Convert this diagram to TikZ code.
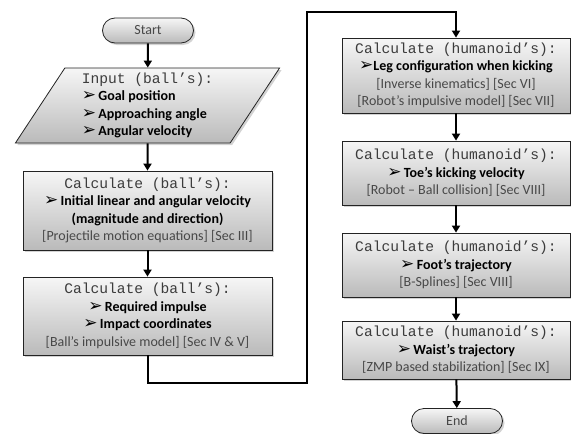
\documentclass[tikz,border=0pt]{standalone}
\usepackage{fontspec}
\setmainfont{Carlito}
\setmonofont{Liberation Mono}
\newfontfamily\symfont{DejaVu Sans}
\usetikzlibrary{arrows.meta,shapes.geometric,shadows}
\definecolor{topc}{RGB}{246,246,246}
\definecolor{botc}{RGB}{186,186,186}
\definecolor{monoc}{RGB}{60,60,60}
\definecolor{refc}{RGB}{72,72,72}
\definecolor{edgec}{RGB}{35,35,35}
\newcommand{\hd}[1]{{\ttfamily\color{monoc}\fontsize{14.6}{17.5}\selectfont #1}}
\newcommand{\arr}{{\symfont\fontsize{17}{17.5}\selectfont ➢}}
\newcommand{\itm}[1]{\arr\,\textbf{#1}}
\newcommand{\rf}[1]{{\color{refc}#1}}
\begin{document}
\begin{tikzpicture}[x=1pt,y=-1pt,font=\fontsize{14}{17.5}\selectfont,
  shaded/.style={draw=edgec, line width=0.8pt, top color=topc, bottom color=botc,
    drop shadow={shadow xshift=2pt,shadow yshift=-2pt,opacity=0.35}},
  box/.style={shaded, rectangle, align=center, inner sep=2pt},
  term/.style={shaded, rectangle, rounded corners=12.5pt, minimum width=91pt, minimum height=25pt, inner sep=0pt, text=refc},
  para/.style={shaded, trapezium, trapezium left angle=59, trapezium right angle=121,
    trapezium stretches=true, minimum width=265pt, minimum height=75pt, align=left, inner sep=0pt},
  conn/.style={line width=2pt, -{Triangle[length=7pt,width=8pt]}}]
\useasboundingbox (0,0) rectangle (571,434);

\node[term] (start) at (148,30.5) {Start};
\node[para] (input) at (147.5,105.5) {\hd{Input (ball’s):}\\\itm{Goal position}\\\itm{Approaching angle}\\\itm{Angular velocity}};
\node[box, minimum width=249pt, minimum height=79pt] (b1) at (147.5,210.5)
  {\hd{Calculate (ball’s):}\\\itm{Initial linear and angular velocity}\\\textbf{(magnitude and direction)}\\\rf{[Projectile motion equations] [Sec III]}};
\node[box, minimum width=249pt, minimum height=78pt] (b2) at (147.5,316)
  {\hd{Calculate (ball’s):}\\\itm{Required impulse}\\\itm{Impact coordinates}\\\rf{[Ball’s impulsive model] [Sec IV \& V]}};

\node[box, minimum width=228pt, minimum height=75pt] (r1) at (456,75.5)
  {\hd{Calculate (humanoid’s):}\\\arr\textbf{Leg configuration when kicking}\\\rf{[Inverse kinematics] [Sec VI]}\\\rf{[Robot’s impulsive model] [Sec VII]}};
\node[box, minimum width=228pt, minimum height=64pt] (r2) at (456,173)
  {\hd{Calculate (humanoid’s):}\\\itm{Toe’s kicking velocity}\\\rf{[Robot – Ball collision] [Sec VIII]}};
\node[box, minimum width=228pt, minimum height=64pt] (r3) at (456,265)
  {\hd{Calculate (humanoid’s):}\\\itm{Foot’s trajectory}\\\rf{[B-Splines] [Sec VIII]}};
\node[box, minimum width=228pt, minimum height=58pt] (r4) at (456,350)
  {\hd{Calculate (humanoid’s):}\\\itm{Waist’s trajectory}\\\rf{[ZMP based stabilization] [Sec IX]}};
\node[term] (end) at (457,421) {End};

\coordinate (c1) at (307,383);
\coordinate (c2) at (307,12);

\draw[conn] (start) -- (input);
\draw[conn] (input) -- (b1);
\draw[conn] (b1) -- (b2);
\draw[conn] (b2.south) |- (c1) -- (c2) -| (r1.north);
\draw[conn] (r1) -- (r2);
\draw[conn] (r2) -- (r3);
\draw[conn] (r3) -- (r4);
\draw[conn] (r4) -- (end);
\end{tikzpicture}
\end{document}
